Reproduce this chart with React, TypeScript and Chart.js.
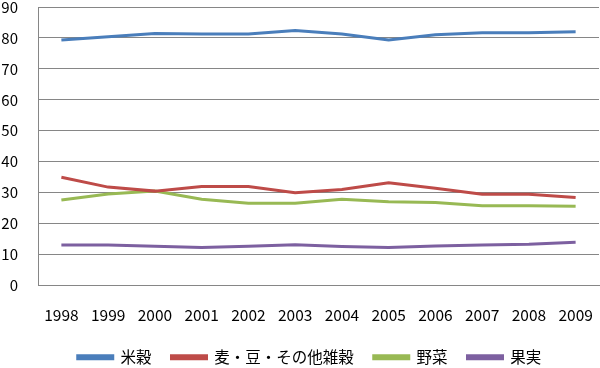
import React, { useEffect, useRef } from "react";
import { Chart, registerables } from "chart.js";

Chart.register(...registerables);

const years = ["1998", "1999", "2000", "2001", "2002", "2003", "2004", "2005", "2006", "2007", "2008", "2009"];
const rice = [79.3, 80.4, 81.4, 81.3, 81.3, 82.4, 81.3, 79.3, 81.0, 81.7, 81.7, 82.0];
const grains = [35.0, 31.8, 30.5, 32.0, 32.0, 30.0, 31.0, 33.2, 31.4, 29.5, 29.5, 28.4];
const vegetables = [27.6, 29.6, 30.5, 27.9, 26.6, 26.6, 27.9, 27.1, 26.8, 25.8, 25.8, 25.6];
const fruit = [13.1, 13.1, 12.7, 12.3, 12.7, 13.2, 12.6, 12.3, 12.8, 13.1, 13.3, 14.0];
const seriesNames = ["米穀", "麦・豆・その他雑穀", "野菜", "果実"];
const colors = ["#4a7ebb", "#be4b48", "#98b954", "#7d60a0"];

const FONT = "'Noto Sans CJK JP', 'Noto Sans', sans-serif";

const zeroPadding = (s: any) => {
  s.paddingTop = 0;
  s.paddingBottom = 0;
  s.paddingLeft = 0;
  s.paddingRight = 0;
};

const legendShift = {
  id: "legendShift",
  afterLayout(chart: any) {
    const lg = chart.legend;
    if (lg) {
      lg.left += 10;
      lg.right += 10;
    }
  },
};

export default function App() {
  const ref = useRef<HTMLCanvasElement>(null);
  useEffect(() => {
    document.body.style.margin = "0";
    const values = [rice, grains, vegetables, fruit];
    const chart = new Chart(ref.current!, {
      type: "line",
      data: {
        labels: years,
        datasets: values.map((v, i) => ({
          label: seriesNames[i],
          data: v,
          borderColor: colors[i],
          backgroundColor: colors[i],
          borderWidth: 3,
          pointRadius: 0,
          tension: 0,
        })),
      },
      plugins: [legendShift],
      options: {
        animation: false,
        responsive: false,
        maintainAspectRatio: false,
        layout: { autoPadding: false, padding: { top: 7, right: 1, left: 0, bottom: -7 } },
        plugins: {
          tooltip: { enabled: false },
          legend: {
            position: "bottom",
            labels: {
              boxWidth: 35,
              boxHeight: 3,
              padding: 20,
              color: "#000",
              font: { family: FONT, size: 15.5 },
            },
          },
        },
        scales: {
          x: {
            offset: true,
            grid: { display: false, drawTicks: false },
            border: { color: "#868686", width: 1 },
            ticks: { color: "#000", font: { family: FONT, size: 15.5 }, padding: 20, maxRotation: 0, autoSkip: false },
            afterFit: (s: any) => { s.height = 44; zeroPadding(s); },
          },
          y: {
            min: 0,
            max: 90,
            grid: { color: "#868686", drawTicks: false, lineWidth: 1 },
            border: { color: "#868686", width: 1 },
            ticks: { stepSize: 10, color: "#000", font: { family: FONT, size: 15 }, padding: 20 },
            afterFit: (s: any) => { s.width = 38; zeroPadding(s); },
          },
        },
      },
    });
    return () => chart.destroy();
  }, []);
  return (
    <div style={{ width: 600, height: 368 }}>
      <canvas ref={ref} width={600} height={368} />
    </div>
  );
}
